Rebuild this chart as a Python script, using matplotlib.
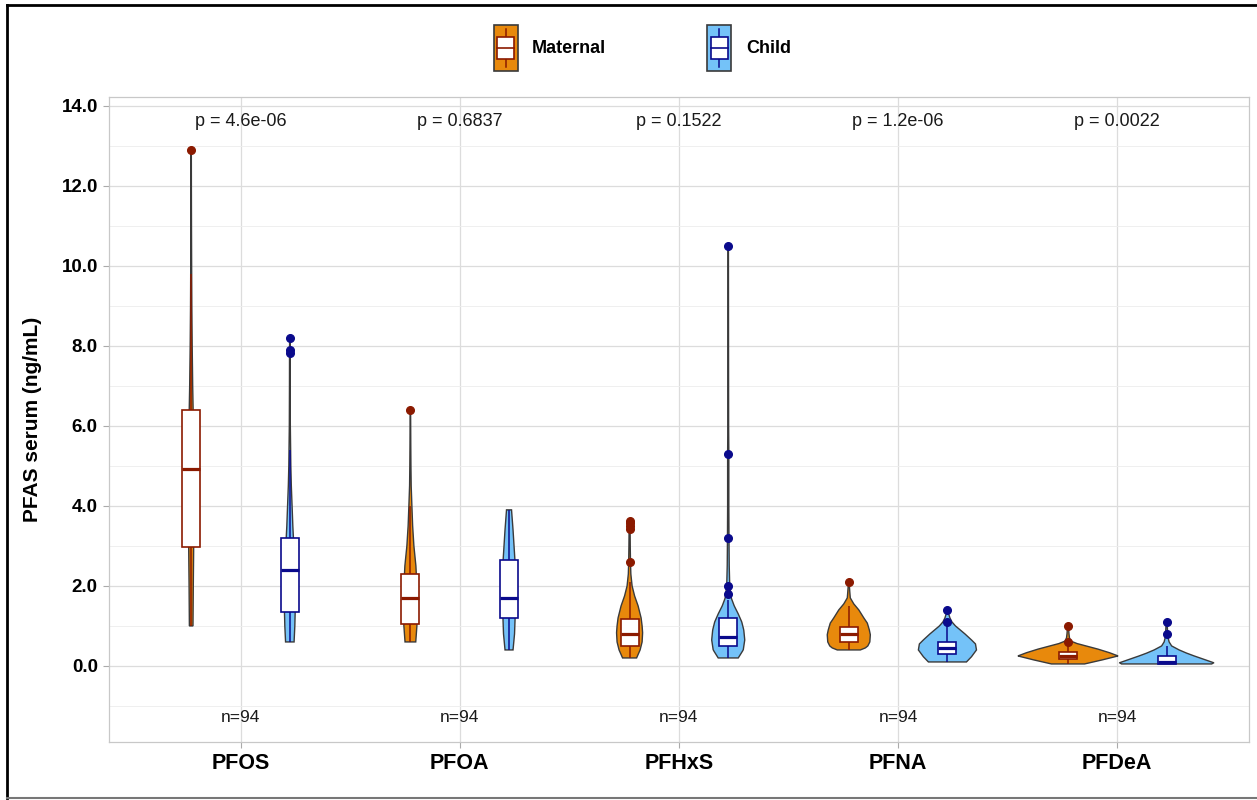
import numpy as np
import matplotlib
matplotlib.use("Agg")
import matplotlib.pyplot as plt
from matplotlib.patches import Rectangle
from matplotlib.legend_handler import HandlerBase
from matplotlib.lines import Line2D

plt.rcParams['font.family'] = ['Liberation Sans', 'DejaVu Sans']

# ---------------- data ----------------
compounds = ["PFOS", "PFOA", "PFHxS", "PFNA", "PFDeA"]
groups = ["Maternal", "Child"]
p_values = ["p = 4.6e-06", "p = 0.6837", "p = 0.1522", "p = 1.2e-06", "p = 0.0022"]
n_labels = ["n=94", "n=94", "n=94", "n=94", "n=94"]

# box statistics: (whisker low, q1, median, q3, whisker high)
maternal_box = [
    (1.0, 2.97, 4.91, 6.40, 9.8),
    (0.6, 1.04, 1.70, 2.30, 4.0),
    (0.2, 0.51, 0.79, 1.18, 2.1),
    (0.4, 0.61, 0.80, 0.98, 1.5),
    (0.05, 0.18, 0.26, 0.36, 0.55),
]
child_box = [
    (0.6, 1.34, 2.40, 3.20, 5.4),
    (0.4, 1.19, 1.70, 2.65, 3.9),
    (0.2, 0.51, 0.72, 1.19, 1.65),
    (0.1, 0.29, 0.44, 0.61, 1.0),
    (0.05, 0.05, 0.11, 0.25, 0.5),
]
maternal_outliers = [
    [12.9],
    [6.4],
    [3.62, 3.56, 3.49, 3.41, 2.6],
    [2.1],
    [1.0, 0.61],
]
child_outliers = [
    [8.2, 7.9, 7.82],
    [],
    [10.5, 5.3, 3.2, 2.0, 1.8],
    [1.4, 1.09],
    [1.1, 0.8],
]

# violin density profiles (relative width, 1.0 = widest violin)
maternal_violin_y = [
    [1.0, 2.0, 3.0, 4.0, 5.0, 6.0, 7.0, 8.0, 9.0, 10.0, 11.0, 12.0, 12.9],
    [0.6, 1.0, 1.5, 2.0, 2.5, 3.0, 3.5, 4.0, 4.5, 5.0, 5.5, 6.0, 6.4],
    [0.2, 0.4, 0.6, 0.83, 1.0, 1.2, 1.5, 1.75, 2.0, 2.3, 2.6, 3.0, 3.4, 3.6],
    [0.4, 0.45, 0.5, 0.6, 0.78, 0.9, 1.07, 1.2, 1.4, 1.55, 1.7, 1.85, 2.0, 2.1],
    [0.05, 0.15, 0.25, 0.33, 0.42, 0.48, 0.56, 0.62, 0.7, 0.8, 0.9, 1.0],
]
maternal_violin_w = [
    [0.036, 0.042, 0.05, 0.058, 0.055, 0.045, 0.03, 0.02, 0.013, 0.009, 0.006, 0.004, 0.003],
    [0.107, 0.13, 0.14, 0.13, 0.11, 0.07, 0.045, 0.03, 0.016, 0.011, 0.008, 0.006, 0.004],
    [0.14, 0.21, 0.25, 0.26, 0.25, 0.23, 0.17, 0.10, 0.05, 0.025, 0.018, 0.013, 0.01, 0.006],
    [0.23, 0.33, 0.38, 0.42, 0.43, 0.41, 0.37, 0.30, 0.20, 0.10, 0.03, 0.02, 0.012, 0.008],
    [0.33, 0.68, 1.0, 0.83, 0.60, 0.42, 0.18, 0.06, 0.03, 0.02, 0.014, 0.01],
]
child_violin_y = [
    [0.6, 1.0, 1.5, 2.0, 2.5, 3.0, 3.5, 4.0, 4.5, 5.0, 6.0, 7.0, 7.8, 8.2],
    [0.4, 0.8, 1.5, 2.0, 2.6, 3.0, 3.4, 3.9],
    [0.2, 0.4, 0.65, 0.9, 1.1, 1.3, 1.5, 1.7, 2.0, 2.5, 3.2, 4.0, 5.3, 6.0, 8.0, 10.5],
    [0.1, 0.23, 0.4, 0.55, 0.65, 0.8, 1.0, 1.1, 1.2, 1.3, 1.4],
    [0.05, 0.08, 0.15, 0.25, 0.32, 0.4, 0.5, 0.6, 0.7, 0.8, 1.1],
]
child_violin_w = [
    [0.085, 0.10, 0.11, 0.11, 0.10, 0.08, 0.06, 0.045, 0.03, 0.02, 0.01, 0.007, 0.006, 0.003],
    [0.08, 0.11, 0.13, 0.13, 0.12, 0.10, 0.08, 0.05],
    [0.20, 0.30, 0.33, 0.31, 0.27, 0.20, 0.12, 0.06, 0.03, 0.02, 0.015, 0.012, 0.012, 0.008, 0.006, 0.004],
    [0.38, 0.48, 0.58, 0.56, 0.48, 0.35, 0.16, 0.09, 0.05, 0.025, 0.01],
    [0.90, 0.94, 0.78, 0.55, 0.40, 0.25, 0.10, 0.05, 0.03, 0.02, 0.01],
]

# ---------------- styles ----------------
fill_colors = {"Maternal": "#E8890C", "Child": "#74C2F8"}
edge_colors = {"Maternal": "#8B1A00", "Child": "#0A0A8C"}
violin_edge = "#3A3A3A"
DODGE = 0.225
VIOLIN_MAX_WIDTH = 0.457
BOX_WIDTH = 0.082

fig = plt.figure(figsize=(12.57, 8.0), dpi=100)
ax = fig.add_axes([0.0867, 0.0725, 0.9068, 0.8065])

x_pos = np.arange(1, len(compounds) + 1)


def draw_group(i, grp, box, outliers, vy, vw):
    xc = x_pos[i] + (-DODGE if grp == "Maternal" else DODGE)
    y = np.array(vy)
    w = np.array(vw) * VIOLIN_MAX_WIDTH / 2.0
    yy = np.linspace(y[0], y[-1], 300)
    ww = np.interp(yy, y, w)
    # violin
    xs = np.concatenate([xc - ww, (xc + ww)[::-1]])
    ys = np.concatenate([yy, yy[::-1]])
    ax.fill(xs, ys, facecolor=fill_colors[grp], edgecolor=violin_edge,
            linewidth=1.0, zorder=3)
    lo, q1, med, q3, hi = box
    ec = edge_colors[grp]
    # whiskers
    ax.plot([xc, xc], [lo, q1], color=ec, lw=1.1, zorder=4, solid_capstyle='butt')
    ax.plot([xc, xc], [q3, hi], color=ec, lw=1.1, zorder=4, solid_capstyle='butt')
    # box
    ax.add_patch(Rectangle((xc - BOX_WIDTH / 2, q1), BOX_WIDTH, q3 - q1,
                           facecolor="white", edgecolor=ec, lw=1.2, zorder=5))
    ax.plot([xc - BOX_WIDTH / 2, xc + BOX_WIDTH / 2], [med, med], color=ec,
            lw=2.3, zorder=6, solid_capstyle='butt')
    if outliers:
        ax.plot([xc] * len(outliers), outliers, 'o', color=ec, ms=5.5,
                mec=ec, zorder=7)


for i in range(len(compounds)):
    draw_group(i, "Maternal", maternal_box[i], maternal_outliers[i],
               maternal_violin_y[i], maternal_violin_w[i])
    draw_group(i, "Child", child_box[i], child_outliers[i],
               child_violin_y[i], child_violin_w[i])
    ax.text(x_pos[i], 13.6, p_values[i], ha='center', va='center',
            fontsize=13, color='#1a1a1a', zorder=8)
    ax.text(x_pos[i], -1.28, n_labels[i], ha='center', va='center',
            fontsize=12.5, color='#1a1a1a', zorder=8)

ax.set_xlim(0.4, 5.6)
ax.set_ylim(-1.9, 14.22)
ax.set_xticks(x_pos)
ax.set_xticklabels(compounds, fontsize=15.5, fontweight='bold')
yt = np.arange(0, 15, 2)
ax.set_yticks(yt)
ax.set_yticklabels([f"{v:.1f}" for v in yt], fontsize=13.5, fontweight='bold')
ax.set_yticks(np.arange(-1, 15, 2), minor=True)
ax.grid(True, which='major', color='#DCDCDC', lw=0.9, zorder=0)
ax.grid(True, which='minor', axis='y', color='#EDEDED', lw=0.6, zorder=0)
ax.set_axisbelow(True)
ax.tick_params(axis='both', which='major', length=4, color='#AAAAAA',
               labelcolor='black', pad=4)
ax.tick_params(axis='y', which='minor', length=0)
for s in ax.spines.values():
    s.set_color('#C8C8C8')
    s.set_linewidth(0.9)
ax.set_ylabel("PFAS serum (ng/mL)", fontsize=15, fontweight='bold', labelpad=14)


# legend with custom box-violin keys
class KeyHandler(HandlerBase):
    def create_artists(self, legend, orig_handle, xdescent, ydescent, width,
                       height, fontsize, trans):
        grp = orig_handle.get_label()
        x0, y0 = -xdescent, -ydescent
        arts = []
        arts.append(Rectangle((x0, y0), width, height, facecolor=fill_colors[grp],
                              edgecolor=violin_edge, lw=1.2, transform=trans))
        cx = x0 + width / 2
        ec = edge_colors[grp]
        arts.append(Line2D([cx, cx], [y0 + 0.08 * height, y0 + 0.92 * height],
                           color=ec, lw=1.1, transform=trans))
        arts.append(Rectangle((x0 + 0.14 * width, y0 + 0.26 * height),
                              0.72 * width, 0.48 * height, facecolor='white',
                              edgecolor=ec, lw=1.2, transform=trans))
        arts.append(Line2D([x0 + 0.14 * width, x0 + 0.86 * width],
                           [y0 + 0.5 * height, y0 + 0.5 * height],
                           color=ec, lw=1.2, transform=trans))
        return arts


handles = [Line2D([], [], label=g) for g in groups]
leg = fig.legend(handles=handles, labels=groups, loc='center',
                 bbox_to_anchor=(0.511, 0.94), ncol=2, frameon=False,
                 handler_map={Line2D: KeyHandler()},
                 prop={'weight': 'bold', 'size': 13},
                 handlelength=1.33, handleheight=3.47, handletextpad=0.8,
                 columnspacing=5.6)

# outer frame
fig.add_artist(Line2D([0.0056, 0.0056], [0.0025, 0.9938], color='black', lw=2,
                      transform=fig.transFigure))
fig.add_artist(Line2D([0.0056, 1.0], [0.9938, 0.9938], color='black', lw=2,
                      transform=fig.transFigure))
fig.add_artist(Line2D([0.0056, 1.0], [0.0025, 0.0025], color='#777777', lw=1.5,
                      transform=fig.transFigure))

fig.savefig("out.png", dpi=100, facecolor='white')
